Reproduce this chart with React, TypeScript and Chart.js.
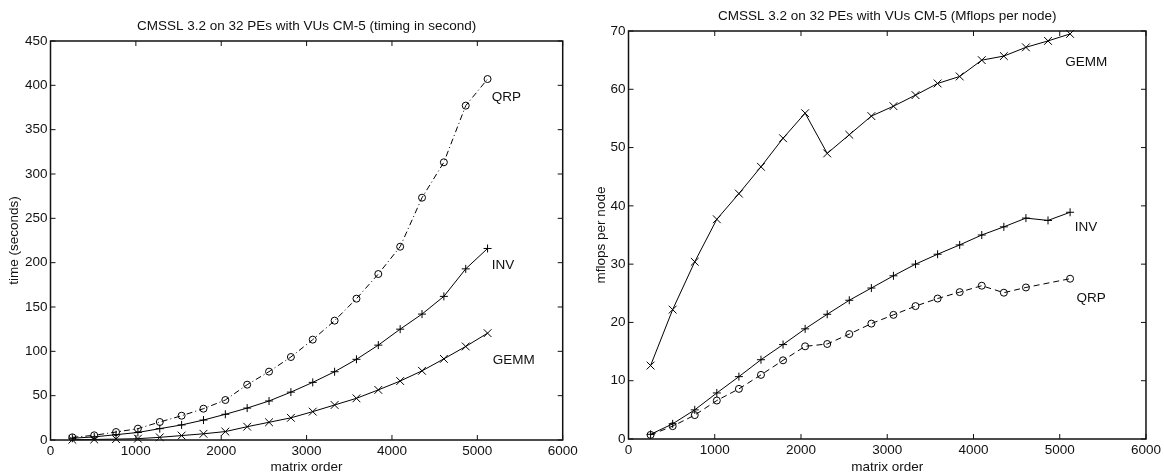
import React, { useEffect, useRef } from 'react';
import { Chart, registerables } from 'chart.js';

Chart.register(...registerables);

// ---------- data ----------
const matrixOrder = [256, 512, 768, 1024, 1280, 1536, 1792, 2048, 2304, 2560, 2816, 3072, 3328, 3584, 3840, 4096, 4352, 4608, 4864, 5120];

const timeQRP = [3, 5.3, 9, 12.8, 20.3, 27.4, 35.3, 45.1, 62.4, 77.1, 93.6, 113.2, 134.6, 159.4, 187.2, 218, 273.3, 313.2, 377.1, 407.1];
const timeINV = [2, 3.5, 6, 8.5, 12.8, 17, 22.5, 29, 36, 44, 54, 65, 77, 91, 107, 125, 142, 162, 193, 216];
const timeGEMM = [0.3, 0.6, 1, 1.5, 3, 5, 7, 9.5, 15, 20, 25, 32, 39.5, 47, 56.5, 66.5, 78, 91.5, 105.5, 120.5];

const mflopsGEMM = [12.6, 22.2, 30.4, 37.7, 42.1, 46.7, 51.6, 55.9, 49, 52.2, 55.4, 57.1, 59, 61, 62.2, 65, 65.7, 67.2, 68.3, 69.5];
const mflopsINV = [0.8, 2.6, 5.0, 7.9, 10.7, 13.6, 16.2, 18.9, 21.4, 23.8, 25.9, 28, 30, 31.7, 33.3, 35, 36.4, 37.9, 37.5, 38.9];
const mflopsQRP = [0.7, 2.2, 4.1, 6.6, 8.6, 11, 13.5, 15.9, 16.3, 18, 19.8, 21.3, 22.8, 24.1, 25.2, 26.3, 25.1, 26, null, 27.5];

const leftTitle = 'CMSSL 3.2 on 32 PEs with VUs CM-5 (timing in second)';
const rightTitle = 'CMSSL 3.2 on 32 PEs with VUs CM-5 (Mflops per node)';
const xAxisTitle = 'matrix order';
const leftYAxisTitle = 'time (seconds)';
const rightYAxisTitle = 'mflops per node';

const leftCurveLabels = [
  { text: 'QRP', x: 5170, y: 386 },
  { text: 'INV', x: 5170, y: 197 },
  { text: 'GEMM', x: 5180, y: 90 },
];
const rightCurveLabels = [
  { text: 'GEMM', x: 5065, y: 64.7 },
  { text: 'INV', x: 5175, y: 36.3 },
  { text: 'QRP', x: 5195, y: 24.1 },
];

const FONT = "'Liberation Sans', Arial, Helvetica, sans-serif";
const FSIZE = 13.5;
const INK = '#111';

const pairs = (ys: (number | null)[]) => matrixOrder.map((x, i) => ({ x, y: ys[i] }));

const framePlugin = {
  id: 'frameAndLabels',
  afterDatasetsDraw(chart: any, _args: any, opts: any) {
    const { ctx, chartArea: a, scales } = chart;
    const xs = scales.x;
    const ys = scales.y;
    const tl = 5;
    ctx.save();
    ctx.strokeStyle = INK;
    ctx.lineWidth = 1;
    ctx.beginPath();
    xs.ticks.forEach((t: any) => {
      const px = xs.getPixelForValue(t.value);
      ctx.moveTo(px, a.bottom);
      ctx.lineTo(px, a.bottom - tl);
      ctx.moveTo(px, a.top);
      ctx.lineTo(px, a.top + tl);
    });
    ys.ticks.forEach((t: any) => {
      const py = ys.getPixelForValue(t.value);
      ctx.moveTo(a.left, py);
      ctx.lineTo(a.left + tl, py);
      ctx.moveTo(a.right, py);
      ctx.lineTo(a.right - tl, py);
    });
    ctx.stroke();
    ctx.lineWidth = 1.5;
    ctx.strokeRect(a.left, a.top, a.right - a.left, a.bottom - a.top);

    ctx.fillStyle = INK;
    ctx.font = `${FSIZE}px ${FONT}`;
    ctx.textAlign = 'left';
    ctx.textBaseline = 'middle';
    (opts.labels || []).forEach((l: any) => {
      ctx.fillText(l.text, xs.getPixelForValue(l.x), ys.getPixelForValue(l.y));
    });
    ctx.restore();
  },
};

type PanelCfg = {
  title: string;
  titlePad: { top: number; bottom: number };
  yTitle: string;
  yTitlePad: number;
  yMax: number;
  yStep: number;
  yAxisWidth: number;
  xAxisHeight: number;
  rightPad: number;
  datasets: any[];
  labels: any[];
};

const plainTick = (v: any) => String(v);

function buildConfig(p: PanelCfg): any {
  return {
    type: 'line',
    data: { datasets: p.datasets },
    plugins: [framePlugin],
    options: {
      responsive: false,
      animation: false,
      events: [],
      layout: { padding: { left: 0, right: p.rightPad, top: 0, bottom: 0 } },
      plugins: {
        legend: { display: false },
        tooltip: { enabled: false },
        title: {
          display: true,
          text: p.title,
          fullSize: false,
          color: INK,
          font: { family: FONT, size: FSIZE, weight: 'normal' },
          padding: p.titlePad,
        },
        frameAndLabels: { labels: p.labels },
      },
      scales: {
        x: {
          type: 'linear',
          min: 0,
          max: 6000,
          grid: { display: false, drawTicks: false },
          border: { display: false },
          ticks: {
            stepSize: 1000,
            padding: 3,
            maxRotation: 0,
            autoSkip: false,
            color: INK,
            font: { family: FONT, size: FSIZE },
            callback: plainTick,
          },
          title: {
            display: true,
            text: xAxisTitle,
            color: INK,
            font: { family: FONT, size: FSIZE },
            padding: { top: 0, bottom: 0 },
          },
          afterFit: (s: any) => {
            s.height = p.xAxisHeight;
          },
        },
        y: {
          type: 'linear',
          min: 0,
          max: p.yMax,
          grid: { display: false, drawTicks: false },
          border: { display: false },
          ticks: {
            stepSize: p.yStep,
            padding: 3,
            color: INK,
            font: { family: FONT, size: FSIZE },
            callback: plainTick,
          },
          title: {
            display: true,
            text: p.yTitle,
            color: INK,
            font: { family: FONT, size: FSIZE },
            padding: { top: p.yTitlePad, bottom: 0 },
          },
          afterFit: (s: any) => {
            s.width = p.yAxisWidth;
          },
        },
      },
    },
  };
}

const lineBase = {
  borderColor: '#000',
  borderWidth: 1,
  tension: 0,
  fill: false,
  clip: false,
  pointBackgroundColor: 'rgba(0,0,0,0)',
  pointBorderColor: '#000',
  pointBorderWidth: 1,
  spanGaps: true,
};

const leftDatasets = [
  { ...lineBase, label: 'QRP', data: pairs(timeQRP), borderDash: [6, 3, 1, 3], pointStyle: 'circle', pointRadius: 3.5 },
  { ...lineBase, label: 'INV', data: pairs(timeINV), pointStyle: 'cross', pointRadius: 4 },
  { ...lineBase, label: 'GEMM', data: pairs(timeGEMM), pointStyle: 'crossRot', pointRadius: 5.5 },
];

const rightDatasets = [
  { ...lineBase, label: 'GEMM', data: pairs(mflopsGEMM), pointStyle: 'crossRot', pointRadius: 5.5 },
  { ...lineBase, label: 'INV', data: pairs(mflopsINV), pointStyle: 'cross', pointRadius: 4 },
  { ...lineBase, label: 'QRP', data: pairs(mflopsQRP), borderDash: [6, 4], pointStyle: 'circle', pointRadius: 3.5 },
];

function Panel({ cfg, left, width, height }: { cfg: PanelCfg; left: number; width: number; height: number }) {
  const ref = useRef<HTMLCanvasElement | null>(null);
  useEffect(() => {
    if (!ref.current) return;
    const chart = new Chart(ref.current, buildConfig(cfg));
    return () => chart.destroy();
  }, []);
  return (
    <canvas
      ref={ref}
      width={width}
      height={height}
      style={{ position: 'absolute', left, top: 0, width, height, display: 'block' }}
    />
  );
}

export default function App() {
  const leftCfg: PanelCfg = {
    title: leftTitle,
    titlePad: { top: 17.9, bottom: 6.9 },
    yTitle: leftYAxisTitle,
    yTitlePad: 6.5,
    yMax: 450,
    yStep: 50,
    yAxisWidth: 50.5,
    xAxisHeight: 35,
    rightPad: 19.3,
    datasets: leftDatasets,
    labels: leftCurveLabels,
  };
  const rightCfg: PanelCfg = {
    title: rightTitle,
    titlePad: { top: 8.6, bottom: 6.2 },
    yTitle: rightYAxisTitle,
    yTitlePad: 11.5,
    yMax: 70,
    yStep: 10,
    yAxisWidth: 46.5,
    xAxisHeight: 36,
    rightPad: 15,
    datasets: rightDatasets,
    labels: rightCurveLabels,
  };
  return (
    <div style={{ position: 'fixed', left: 0, top: 0, width: 1164, height: 475, background: '#fff' }}>
      <Panel cfg={leftCfg} left={0} width={582} height={475} />
      <Panel cfg={rightCfg} left={582} width={582} height={475} />
    </div>
  );
}
